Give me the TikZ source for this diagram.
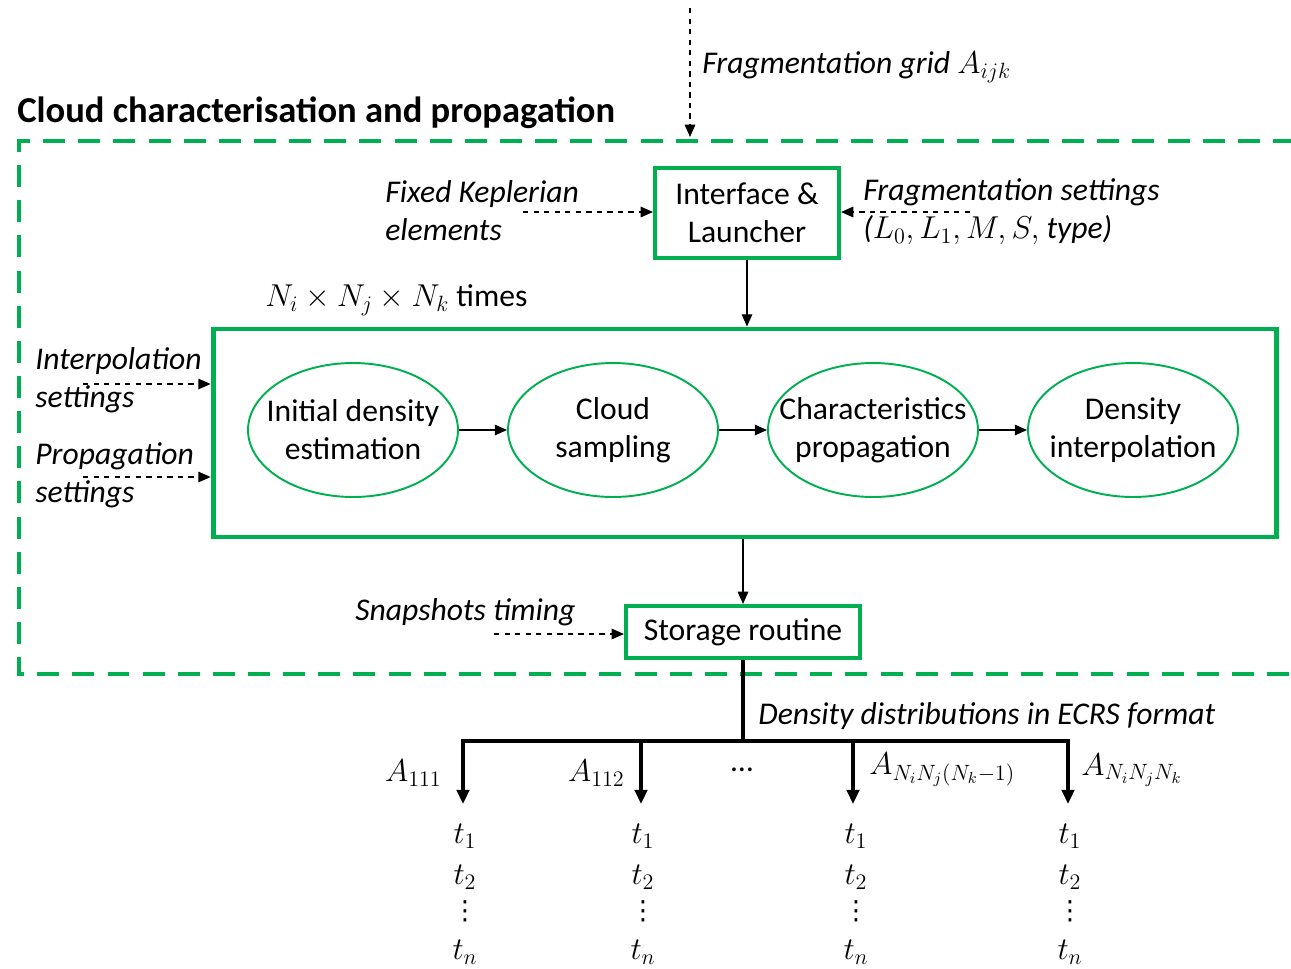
\RequirePackage{fix-cm}
\documentclass[tikz,border=0pt]{standalone}
\usepackage{fontspec}
\setmainfont{Carlito}
\newfontfamily\symfont{DejaVu Sans}
\usetikzlibrary{shapes.geometric,arrows.meta}
\definecolor{cgreen}{HTML}{00B050}

\begin{document}
\begin{tikzpicture}[x=0.02cm,y=-0.02cm,
  every node/.style={font=\fontsize{18}{21.5}\selectfont, inner sep=0pt},
  greenbox/.style={draw=cgreen, line width=2.3pt, align=center},
  proc/.style={ellipse, draw=cgreen, line width=1.1pt, align=center,
               minimum width=4.2cm, minimum height=2.68cm,
               inner xsep=-12pt, inner ysep=0pt},
  note/.style={font=\fontsize{18}{21.5}\selectfont\itshape, align=left},
  tip/.style={-{Triangle[length=7pt,width=6pt]}},
  darr/.style={tip, dashed, line width=0.7pt},
  arr/.style={tip, line width=0.8pt},
  bus/.style={line width=2.6pt},
  busarr/.style={-{Triangle[length=8pt,width=7pt]}, line width=2pt},
  frame/.style={draw=cgreen, line width=2.8pt, dash pattern=on 12.5pt off 7.5pt},
  vdot/.style={font=\fontsize{15}{15}\symfont}
]
\useasboundingbox (0,0) rectangle (1291,968);

% outer frame of the characterisation/propagation module (open to the right)
\coordinate (ftr) at (1295,141);
\coordinate (ftl) at (19,141);
\coordinate (fbl) at (19,674);
\coordinate (fbr) at (1295,674);
\draw[frame] (ftr) -- (ftl) -- (fbl) -- (fbr);

\node[font=\fontsize{20.8}{24}\selectfont\bfseries, anchor=west] (title) at (17,113)
  {Cloud characterisation and propagation};

% incoming grid
\coordinate (gsrc) at (690,8);
\coordinate (gdst) at (690,137);
\draw[darr] (gsrc) -- (gdst);
\node[note, anchor=west] (glabel) at (702,67) {Fragmentation grid $A_{ijk}$};

% interface
\node[greenbox, minimum width=3.68cm, minimum height=1.8cm] (iface) at (747,213)
  {Interface \&\\Launcher};
\node[note, anchor=west] (kep) at (385,211) {Fixed Keplerian\\elements};
\coordinate (kepsrc) at (523,212);
\draw[darr] (kepsrc) -- (kepsrc -| iface.west);
\node[note, anchor=west] (fset) at (863,212)
  {Fragmentation settings\\($L_0, L_1, M, S,$ type)};
\coordinate (fsrc) at (970,212);
\draw[darr] (fsrc) -- (fsrc -| iface.east);

% repeated loop
\node[greenbox, line width=2.8pt, minimum width=21.28cm, minimum height=4.16cm] (loop) at (745,433) {};
\draw[arr] (iface.south) -- (iface.south |- loop.north);
\node[anchor=west] (times) at (265,300) {$N_i \times N_j \times N_k$ times};

\node[note, anchor=west] (interp) at (35,380) {Interpolation\\settings};
\coordinate (isrc) at (83,384);
\draw[darr] (isrc) -- (isrc -| loop.west);
\node[note, anchor=west] (prop) at (35,475) {Propagation\\settings};
\coordinate (psrc) at (83,477);
\draw[darr] (psrc) -- (psrc -| loop.west);

\node[proc] (e1) at (353,430) {Initial density\\estimation};
\node[proc] (e2) at (613,430) {Cloud\\sampling};
\node[proc] (e3) at (873,430) {Characteristics\\propagation};
\node[proc] (e4) at (1133,430) {Density\\interpolation};
\draw[arr] (e1) -- (e2);
\draw[arr] (e2) -- (e3);
\draw[arr] (e3) -- (e4);

% storage
\node[greenbox, minimum width=4.68cm, minimum height=1.04cm] (store) at (743,632) {Storage routine};
\draw[arr] (store.north |- loop.south) -- (store.north);
\node[note, anchor=west] (snap) at (355,612) {Snapshots timing};
\coordinate (ssrc) at (494,634);
\draw[darr] (ssrc) -- (ssrc -| store.west);

% output distribution
\coordinate (hub) at (743,741);
\coordinate (b1) at (463,741);
\coordinate (b2) at (641,741);
\coordinate (b3) at (853,741);
\coordinate (b4) at (1068,741);
\draw[bus] (store.south) -- (hub);
\draw[bus, line cap=rect] (b1) -- (b4);
\node[note, anchor=west] (dd) at (758,716) {Density distributions in ECRS format};

\coordinate (d1) at (463,804);
\coordinate (d2) at (641,804);
\coordinate (d3) at (853,804);
\coordinate (d4) at (1068,804);
\draw[busarr] (b1) -- (d1);
\draw[busarr] (b2) -- (d2);
\draw[busarr] (b3) -- (d3);
\draw[busarr] (b4) -- (d4);

\node[anchor=east] (a1) at (442,773) {$A_{111}$};
\node[anchor=east] (a2) at (625,773) {$A_{112}$};
\node (adots) at (742,770) {…};
\node[anchor=west] (a3) at (869,770) {$A_{N_iN_j(N_k-1)}$};
\node[anchor=west] (a4) at (1081,770) {$A_{N_iN_jN_k}$};

% snapshot times per grid point
\foreach \c/\x in {1/465,2/643,3/856,4/1070}{
  \node (t1\c) at (\x,836) {$t_1$};
  \node (t2\c) at (\x,877) {$t_2$};
  \node[vdot] (tv\c) at (\x,911) {⋮};
  \node (tn\c) at (\x,952) {$t_n$};
}
\end{tikzpicture}
\end{document}
